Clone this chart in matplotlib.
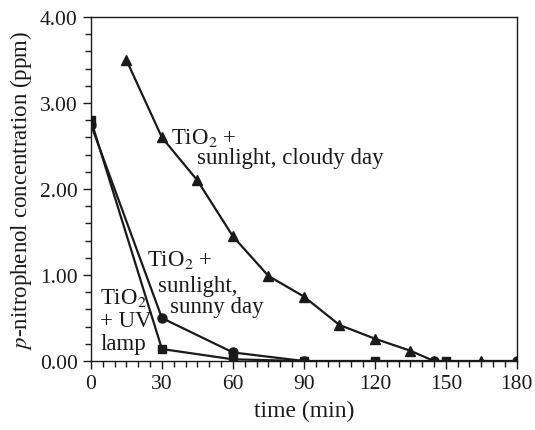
import matplotlib
matplotlib.use("Agg")
import matplotlib.pyplot as plt
from matplotlib.ticker import MultipleLocator

# cloudy day, TiO2 + sunlight (triangles)
t_cloudy = [15, 30, 45, 60, 75, 90, 105, 120, 135, 145, 165, 180]
c_cloudy = [3.50, 2.60, 2.10, 1.45, 0.99, 0.75, 0.42, 0.26, 0.12, 0.0, 0.0, 0.0]

# sunny day, TiO2 + sunlight (circles)
t_sunny = [0, 30, 60, 90, 145, 180]
c_sunny = [2.75, 0.50, 0.10, 0.0, 0.0, 0.0]

# TiO2 + UV lamp (squares)
t_uv = [0, 30, 60, 90, 120, 150]
c_uv = [2.80, 0.14, 0.02, 0.0, 0.0, 0.0]

x_ticks = [0, 30, 60, 90, 120, 150, 180]
y_ticks = [0.0, 1.0, 2.0, 3.0, 4.0]

plt.rcParams['font.family'] = 'serif'
plt.rcParams['font.serif'] = ['Liberation Serif', 'DejaVu Serif']
plt.rcParams['mathtext.fontset'] = 'stix'

ink = '#1a1a1a'
fig = plt.figure(figsize=(5.35, 4.31), dpi=100)
ax = fig.add_axes([0.170, 0.160, 0.796, 0.798])

ax.plot(t_cloudy, c_cloudy, color=ink, lw=1.6, marker='^', ms=6.5)
ax.plot(t_sunny, c_sunny, color=ink, lw=1.6, marker='o', ms=6.5)
ax.plot(t_uv, c_uv, color=ink, lw=1.6, marker='s', ms=5.5)

ax.set_xlim(0, 180)
ax.set_ylim(0, 4.0)
ax.set_xticks(x_ticks)
ax.set_yticks(y_ticks)
ax.set_yticklabels([f"{v:.2f}" for v in y_ticks])
ax.xaxis.set_minor_locator(MultipleLocator(5))
ax.yaxis.set_minor_locator(MultipleLocator(0.2))
ax.tick_params(which='major', length=6, width=1, labelsize=15.5, colors=ink)
ax.tick_params(which='minor', length=4, width=1, colors=ink)
for s in ax.spines.values():
    s.set_color(ink)
    s.set_linewidth(1)

ax.set_xlabel("time (min)", fontsize=17, color=ink, labelpad=5)
ax.set_ylabel(r"$\it{p}$-nitrophenol concentration (ppm)", fontsize=16.5,
              color=ink, labelpad=4)

fs = 16.5
ax.text(34, 2.60, r"TiO$_2$ +", fontsize=fs, va='center', color=ink)
ax.text(45, 2.37, "sunlight, cloudy day", fontsize=fs, va='center', color=ink)
ax.text(23.5, 1.19, r"TiO$_2$ +", fontsize=fs, va='center', color=ink)
ax.text(28.5, 0.88, "sunlight,", fontsize=fs, va='center', color=ink)
ax.text(33.5, 0.63, "sunny day", fontsize=fs, va='center', color=ink)
ax.text(4.0, 0.74, r"TiO$_2$", fontsize=fs, va='center', color=ink)
ax.text(4.0, 0.47, "+ UV", fontsize=fs, va='center', color=ink)
ax.text(4.0, 0.20, "lamp", fontsize=fs, va='center', color=ink)

fig.savefig("out.png", dpi=100)
